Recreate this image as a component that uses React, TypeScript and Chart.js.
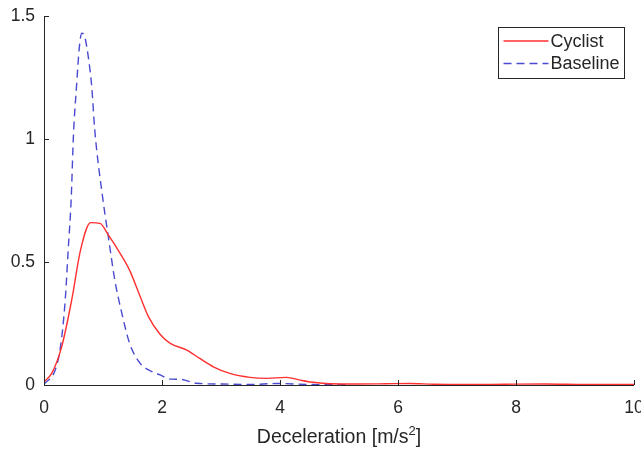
import React, { useEffect, useRef } from "react";
import { Chart, registerables } from "chart.js";

Chart.register(...registerables);

const cyclistX = [0, 0.13, 0.3, 0.47, 0.62, 0.79, 0.95, 1.09, 1.29, 1.45, 1.63, 1.77, 1.97, 2.14, 2.42, 2.64, 2.87, 3.15, 3.49, 3.77, 4.11, 4.34, 4.56, 4.85, 5.3, 5.8, 6.2, 6.6, 7.2, 7.8, 8.5, 9.2, 10];
const cyclistY = [0.013, 0.047, 0.156, 0.346, 0.549, 0.66, 0.657, 0.61, 0.535, 0.467, 0.36, 0.278, 0.205, 0.169, 0.142, 0.108, 0.074, 0.047, 0.031, 0.027, 0.031, 0.02, 0.011, 0.005, 0.004, 0.005, 0.006, 0.003, 0.002, 0.003, 0.004, 0.002, 0.002];

const baselineX = [0, 0.19, 0.28, 0.36, 0.41, 0.46, 0.5, 0.55, 0.6, 0.64, 0.69, 0.75, 0.81, 0.86, 1.0, 1.09, 1.2, 1.32, 1.45, 1.63, 1.8, 1.97, 2.14, 2.31, 2.59, 3.03, 3.5, 3.94, 4.5, 5.13];
const baselineY = [0.003, 0.061, 0.156, 0.346, 0.549, 0.752, 1.02, 1.21, 1.375, 1.43, 1.416, 1.335, 1.21, 1.037, 0.752, 0.603, 0.427, 0.291, 0.17, 0.088, 0.058, 0.041, 0.024, 0.023, 0.007, 0.004, 0.002, 0.006, 0.002, 0.001];

const seriesLabels = ["Cyclist", "Baseline"];
const xTickStep = 2;
const yTickStep = 0.5;
const xTitleMain = "Deceleration [m/s";
const xTitleSup = "2";
const xTitleEnd = "]";

const AXIS_COLOR = "#262626";
const FONT = "Arial, 'Liberation Sans', Helvetica, sans-serif";

const axesPlugin = {
  id: "matlabAxes",
  afterDraw(chart: any) {
    const ctx = chart.ctx;
    const { left, right, top, bottom } = chart.chartArea;
    const xs = chart.scales.x;
    const ys = chart.scales.y;
    ctx.save();
    ctx.strokeStyle = AXIS_COLOR;
    ctx.lineWidth = 1;
    ctx.beginPath();
    ctx.moveTo(Math.round(left) + 0.5, top);
    ctx.lineTo(Math.round(left) + 0.5, Math.round(bottom) + 0.5);
    ctx.lineTo(right, Math.round(bottom) + 0.5);
    ctx.stroke();
    const tl = 5;
    ctx.beginPath();
    xs.ticks.forEach((t: any) => {
      const px = Math.round(xs.getPixelForValue(t.value)) + 0.5;
      ctx.moveTo(px, bottom);
      ctx.lineTo(px, bottom - tl);
    });
    ys.ticks.forEach((t: any) => {
      const py = Math.round(ys.getPixelForValue(t.value)) + 0.5;
      ctx.moveTo(left, py);
      ctx.lineTo(left + tl, py);
    });
    ctx.stroke();

    // x-axis title with superscript
    ctx.fillStyle = AXIS_COLOR;
    ctx.textBaseline = "alphabetic";
    ctx.textAlign = "left";
    const mainFont = `19.5px ${FONT}`;
    const supFont = `13px ${FONT}`;
    ctx.font = mainFont;
    const w1 = ctx.measureText(xTitleMain).width;
    const w3 = ctx.measureText(xTitleEnd).width;
    ctx.font = supFont;
    const w2 = ctx.measureText(xTitleSup).width;
    const total = w1 + w2 + w3;
    const cx = (left + right) / 2;
    let tx = cx - total / 2;
    const baseY = bottom + 58;
    ctx.font = mainFont;
    ctx.fillText(xTitleMain, tx, baseY);
    tx += w1;
    ctx.font = supFont;
    ctx.fillText(xTitleSup, tx, baseY - 8);
    tx += w2;
    ctx.font = mainFont;
    ctx.fillText(xTitleEnd, tx, baseY);

    // legend
    const bx = Math.round(right - 136) + 0.5;
    const by = Math.round(top + 11) + 0.5;
    const bw = 126;
    const bh = 51;
    ctx.fillStyle = "#ffffff";
    ctx.fillRect(bx, by, bw, bh);
    ctx.strokeStyle = AXIS_COLOR;
    ctx.lineWidth = 1;
    ctx.strokeRect(bx, by, bw, bh);
    chart.data.datasets.forEach((ds: any, i: number) => {
      const ly = by + 13.5 + i * 22.5;
      ctx.save();
      ctx.strokeStyle = ds.borderColor;
      ctx.lineWidth = ds.borderWidth;
      ctx.setLineDash(ds.borderDash || []);
      ctx.beginPath();
      ctx.moveTo(bx + 5, ly);
      ctx.lineTo(bx + 50, ly);
      ctx.stroke();
      ctx.restore();
      ctx.fillStyle = AXIS_COLOR;
      ctx.font = `18px ${FONT}`;
      ctx.textAlign = "left";
      ctx.textBaseline = "middle";
      ctx.fillText(ds.label, bx + 52, ly + 1);
    });
    ctx.restore();
  },
};

export default function App() {
  const ref = useRef<HTMLCanvasElement | null>(null);
  useEffect(() => {
    if (!ref.current) return;
    const chart = new Chart(ref.current, {
      type: "line",
      data: {
        datasets: [
          {
            label: seriesLabels[0],
            data: cyclistX.map((x, i) => ({ x, y: cyclistY[i] })),
            borderColor: "#ff2f2f",
            borderWidth: 1.4,
            pointRadius: 0,
            cubicInterpolationMode: "monotone",
            fill: false,
          },
          {
            label: seriesLabels[1],
            data: baselineX.map((x, i) => ({ x, y: baselineY[i] })),
            borderColor: "#4a4ad0",
            borderWidth: 1.4,
            borderDash: [8, 5],
            pointRadius: 0,
            cubicInterpolationMode: "monotone",
            fill: false,
          },
        ],
      },
      options: {
        animation: false,
        responsive: true,
        maintainAspectRatio: false,
        layout: { padding: { left: 0, right: 7, top: 16, bottom: 0 } },
        plugins: { legend: { display: false }, tooltip: { enabled: false } },
        scales: {
          x: {
            type: "linear",
            min: 0,
            max: 10,
            grid: { display: false },
            border: { display: false },
            ticks: {
              stepSize: xTickStep,
              color: AXIS_COLOR,
              font: { family: FONT, size: 17.5 },
              padding: 5,
              maxRotation: 0,
              callback: (v: any) => `${+v}`,
            },
            afterFit: (s: any) => {
              s.height = 65;
              s.paddingLeft = 0;
              s.paddingRight = 0;
            },
          },
          y: {
            min: 0,
            max: 1.5,
            grid: { display: false },
            border: { display: false },
            ticks: {
              stepSize: yTickStep,
              color: AXIS_COLOR,
              font: { family: FONT, size: 17.5 },
              padding: 1,
              callback: (v: any) => `${+v}`,
            },
            afterFit: (s: any) => {
              s.width = 44;
              s.paddingTop = 0;
              s.paddingBottom = 0;
            },
          },
        },
      },
      plugins: [axesPlugin],
    } as any);
    return () => chart.destroy();
  }, []);
  return (
    <div style={{ position: "absolute", left: 0, top: 0, width: 641, height: 450, background: "#fff" }}>
      <canvas ref={ref} />
    </div>
  );
}
